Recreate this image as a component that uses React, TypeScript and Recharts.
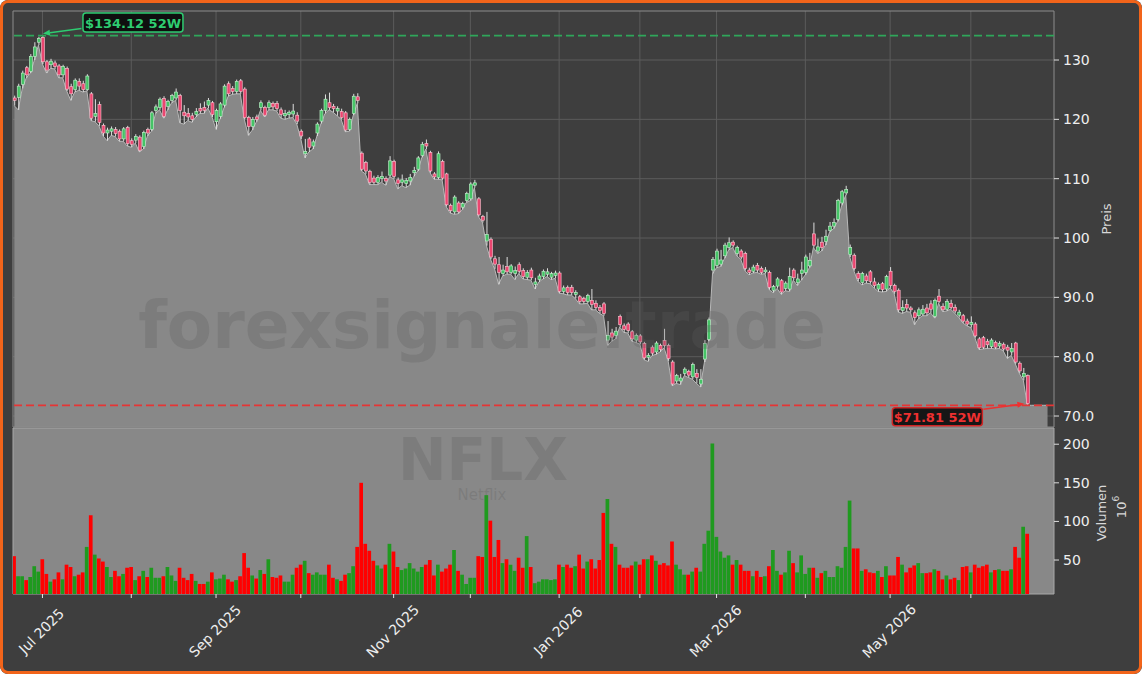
import React from 'react';
import {
  ComposedChart,
  Bar,
  Area,
  XAxis,
  YAxis,
  CartesianGrid,
  ReferenceLine,
  ReferenceDot,
  ReferenceArea,
  Cell,
} from 'recharts';

const W = 1142;
const H = 674;
const FONT = '"DejaVu Sans", sans-serif';

// trading-day index of each month start, Jul 2025 .. Jun 2026
const monthTicks = [7, 29, 50, 71, 94, 113, 135, 155, 174, 196, 217, 237];
const monthLabels = ['Jul 2025', '', 'Sep 2025', '', 'Nov 2025', '', 'Jan 2026', '', 'Mar 2026', '', 'May 2026', ''];

const priceTicks = [70, 80, 90, 100, 110, 120, 130];
const volumeTicks = [50, 100, 150, 200];

const HIGH_52W = 134.12;
const HIGH_IDX = 7;
const LOW_52W = 71.81;
const LOW_IDX = 251;
const TAIL = 5; // fill continues a few slots past the last candle

const open = [
  123.6, 123.7, 125.9, 128.7, 128.1, 130.6, 133.0, 133.8, 129.7, 129.2,
  129.5, 129.0, 127.5, 128.6, 125.5, 125.0, 126.4, 126.0, 125.0, 124.3,
  120.5, 122.5, 119.0, 117.7, 118.0, 118.3, 118.0, 116.7, 118.6, 116.4,
  116.5, 117.0, 115.4, 118.3, 118.3, 121.5, 122.0, 123.5, 122.2, 123.2,
  123.6, 124.0, 121.2, 121.0, 120.6, 120.8, 121.8, 122.0, 122.4, 122.8,
  119.6, 120.5, 122.4, 126.0, 125.2, 124.7, 126.5, 125.1, 120.3, 118.8,
  120.4, 122.0, 122.0, 122.0, 122.7, 122.7, 121.6, 120.6, 120.8, 120.9,
  120.7, 118.0, 114.2, 116.7, 115.5, 117.7, 119.7, 121.5, 122.8, 122.2,
  121.4, 121.3, 121.1, 118.3, 121.0, 123.8, 114.3, 112.7, 111.2, 110.1,
  109.4, 110.0, 110.0, 110.6, 112.9, 109.8, 109.4, 109.2, 109.6, 111.0,
  111.6, 113.9, 115.9, 114.4, 110.8, 110.2, 112.9, 110.8, 105.5, 104.4,
  105.9, 105.2, 106.3, 106.6, 108.9, 106.6, 103.6, 99.5, 99.8, 96.5,
  95.5, 94.0, 95.2, 94.2, 94.0, 95.5, 94.5, 93.4, 94.6, 92.2,
  93.0, 93.5, 93.9, 93.4, 93.7, 94.1, 91.0, 91.7, 91.7, 90.5,
  90.1, 89.8, 89.3, 89.5, 89.0, 88.3, 88.9, 82.8, 84.0, 83.6,
  86.8, 85.2, 85.5, 84.2, 82.8, 83.5, 82.2, 79.9, 81.6, 80.8,
  81.9, 82.7, 81.9, 79.1, 75.9, 75.9, 77.2, 77.5, 76.6, 77.2,
  75.4, 79.6, 82.9, 94.6, 95.4, 95.6, 97.0, 98.4, 99.3, 97.4,
  97.8, 97.4, 94.6, 94.4, 95.4, 94.9, 94.3, 94.2, 91.2, 91.9,
  92.8, 91.5, 91.4, 94.6, 92.5, 94.0, 94.2, 95.3, 100.7, 97.8,
  99.3, 99.4, 101.3, 102.0, 103.1, 105.9, 107.6, 97.2, 97.1, 94.0,
  92.5, 93.6, 94.3, 92.6, 91.4, 92.3, 91.4, 94.4, 92.0, 91.2,
  87.8, 88.8, 88.2, 87.4, 86.9, 87.2, 88.2, 88.9, 86.8, 90.2,
  88.5, 88.0, 89.0, 88.3, 87.0, 86.9, 86.0, 85.4, 85.5, 83.0,
  83.2, 82.6, 81.7, 82.4, 81.8, 82.1, 81.6, 80.8, 82.3, 78.9,
  76.6, 76.8,
];

const high = [
  124.0, 126.0, 128.2, 129.0, 131.0, 133.0, 133.9, 134.12, 130.0, 130.2,
  129.9, 129.3, 129.2, 128.9, 126.0, 126.9, 126.9, 126.5, 127.6, 124.6,
  123.4, 123.0, 119.3, 118.6, 118.8, 118.7, 118.3, 118.7, 118.9, 116.8,
  117.5, 117.3, 118.1, 118.6, 121.4, 122.5, 123.7, 123.9, 123.3, 124.3,
  125.2, 124.3, 122.4, 121.9, 121.1, 121.9, 122.7, 123.0, 123.6, 123.1,
  121.8, 122.9, 125.9, 126.4, 125.6, 126.7, 126.8, 125.4, 120.6, 120.4,
  120.8, 123.2, 122.3, 123.2, 123.0, 123.1, 122.0, 121.6, 121.5, 122.6,
  121.2, 118.3, 116.7, 117.0, 116.6, 119.5, 121.8, 124.2, 124.5, 122.6,
  122.2, 121.8, 121.4, 120.3, 124.3, 124.4, 114.6, 113.0, 111.5, 110.5,
  110.6, 111.2, 110.4, 113.8, 113.2, 110.2, 110.7, 110.1, 110.8, 112.0,
  113.8, 116.2, 116.6, 114.7, 111.1, 114.6, 113.2, 111.0, 105.8, 107.2,
  106.2, 106.1, 107.8, 109.4, 109.8, 106.9, 103.9, 104.4, 100.1, 97.0,
  96.8, 95.5, 96.8, 95.6, 95.2, 95.9, 94.9, 94.6, 95.0, 93.3,
  94.0, 94.7, 94.9, 94.3, 94.5, 94.4, 92.0, 92.0, 92.1, 91.2,
  90.4, 90.1, 90.6, 91.4, 89.5, 88.7, 89.2, 86.0, 84.7, 85.0,
  87.1, 85.6, 85.8, 84.5, 83.9, 83.8, 82.5, 80.6, 81.9, 82.6,
  82.2, 84.7, 82.2, 79.4, 77.1, 77.1, 78.2, 77.8, 79.0, 77.9,
  77.9, 82.8, 86.6, 96.8, 98.2, 98.0, 99.2, 100.1, 99.6, 98.7,
  98.1, 97.7, 95.0, 95.5, 95.8, 95.2, 95.1, 94.5, 92.1, 93.4,
  93.1, 92.7, 95.0, 94.9, 94.0, 96.0, 97.2, 97.5, 102.6, 99.9,
  100.2, 101.4, 102.7, 103.3, 106.6, 108.1, 108.8, 98.9, 97.4, 94.4,
  94.3, 94.0, 94.6, 93.3, 92.5, 92.6, 93.8, 95.1, 92.3, 91.5,
  89.5, 89.7, 88.5, 87.8, 88.3, 88.7, 88.9, 89.5, 89.8, 91.4,
  89.0, 89.7, 89.6, 88.8, 87.9, 87.2, 86.4, 86.8, 85.8, 83.3,
  83.5, 83.0, 83.1, 82.7, 82.6, 82.4, 82.0, 82.3, 82.5, 79.2,
  78.1, 77.0,
];

const low = [
  122.3, 121.6, 125.2, 127.0, 127.8, 130.0, 132.5, 129.3, 127.8, 128.6,
  128.5, 127.0, 127.0, 124.8, 123.2, 124.6, 124.9, 124.6, 124.8, 119.8,
  119.6, 118.9, 117.2, 116.4, 117.3, 117.1, 116.3, 116.3, 115.5, 115.3,
  116.0, 114.5, 115.0, 117.2, 118.0, 121.0, 121.6, 120.2, 121.6, 122.8,
  123.2, 119.4, 119.2, 119.8, 119.5, 120.4, 121.0, 121.0, 121.9, 120.4,
  118.3, 120.1, 122.0, 123.9, 124.2, 124.3, 124.3, 120.0, 117.3, 118.2,
  119.6, 121.5, 120.4, 121.6, 121.6, 121.4, 120.2, 120.0, 120.2, 120.3,
  119.2, 116.7, 113.5, 114.5, 115.0, 117.2, 119.3, 121.0, 121.6, 121.2,
  120.6, 120.0, 117.9, 118.0, 120.7, 122.7, 111.3, 110.8, 109.0, 109.0,
  109.0, 109.4, 108.9, 110.3, 110.0, 108.3, 108.8, 108.5, 108.9, 110.4,
  111.3, 113.6, 115.0, 111.0, 109.9, 109.9, 109.8, 105.3, 104.2, 104.0,
  104.1, 104.8, 106.0, 106.3, 108.5, 103.6, 102.6, 98.7, 96.4, 94.8,
  92.2, 93.6, 93.9, 93.9, 93.0, 94.0, 93.1, 93.0, 92.9, 91.4,
  92.6, 93.1, 93.5, 93.0, 93.2, 90.7, 90.6, 90.4, 90.4, 89.8,
  88.9, 88.9, 89.0, 87.9, 87.9, 87.3, 86.9, 81.9, 82.6, 83.0,
  85.0, 84.1, 84.0, 82.6, 82.4, 82.1, 79.5, 79.2, 80.2, 80.4,
  80.8, 81.5, 79.3, 75.1, 75.5, 75.3, 76.8, 76.5, 76.2, 75.5,
  74.9, 79.1, 82.6, 94.0, 95.0, 95.2, 96.6, 98.0, 98.4, 97.0,
  96.4, 94.5, 93.8, 94.1, 94.2, 93.9, 94.0, 91.3, 90.8, 91.5,
  90.5, 91.1, 91.0, 92.9, 92.0, 92.9, 93.8, 95.0, 98.4, 97.4,
  97.8, 98.8, 101.0, 101.6, 102.8, 105.5, 107.2, 96.8, 94.5, 92.7,
  92.1, 92.4, 92.3, 91.6, 91.0, 90.9, 91.0, 91.6, 90.6, 87.5,
  87.3, 87.6, 87.5, 85.4, 86.4, 86.9, 86.9, 87.4, 86.5, 89.0,
  87.6, 87.7, 88.0, 87.3, 86.6, 85.7, 85.2, 84.9, 83.2, 81.2,
  81.3, 81.4, 81.4, 81.3, 81.4, 81.0, 79.7, 80.2, 78.8, 77.2,
  76.0, 71.81,
];

const close = [
  123.2, 125.6, 127.8, 127.5, 130.6, 132.2, 133.6, 129.7, 128.3, 129.8,
  128.9, 127.5, 128.9, 125.1, 124.3, 126.6, 125.6, 125.0, 127.3, 120.2,
  121.0, 119.5, 117.7, 118.2, 118.4, 117.6, 116.7, 118.4, 115.9, 115.8,
  117.1, 114.8, 117.8, 117.7, 121.1, 122.1, 123.4, 120.5, 123.0, 124.0,
  124.6, 121.5, 120.6, 120.4, 120.0, 121.3, 121.4, 121.5, 123.2, 120.8,
  121.5, 122.6, 125.6, 124.3, 124.7, 126.4, 124.7, 120.3, 118.8, 120.0,
  120.0, 122.8, 120.7, 122.8, 122.1, 121.8, 120.8, 121.0, 121.2, 121.4,
  119.7, 117.2, 114.6, 115.3, 116.2, 119.2, 121.5, 123.4, 122.0, 121.8,
  121.8, 120.3, 118.2, 120.0, 123.9, 123.2, 111.6, 111.3, 109.4, 109.4,
  110.2, 110.4, 109.6, 113.0, 110.4, 109.2, 109.8, 109.7, 110.2, 111.4,
  113.5, 115.8, 115.5, 111.3, 110.3, 114.2, 110.1, 105.6, 104.6, 106.9,
  104.4, 105.8, 107.5, 109.1, 109.3, 103.9, 103.0, 100.6, 96.8, 95.6,
  94.2, 94.6, 94.3, 95.3, 94.5, 94.4, 93.5, 94.2, 93.3, 92.6,
  93.6, 94.4, 94.3, 94.0, 94.1, 91.0, 91.6, 90.8, 90.8, 90.8,
  89.3, 89.3, 90.3, 88.8, 88.3, 87.8, 87.3, 83.6, 83.3, 84.3,
  85.4, 84.6, 84.4, 83.0, 83.6, 82.5, 79.8, 80.2, 80.6, 82.3,
  81.2, 81.9, 79.7, 75.4, 76.8, 76.4, 77.9, 76.9, 78.7, 76.5,
  76.2, 82.2, 86.2, 96.4, 97.8, 96.3, 98.8, 99.2, 98.8, 98.4,
  96.8, 94.9, 94.2, 95.1, 94.6, 94.2, 94.6, 91.7, 91.8, 93.1,
  90.9, 92.4, 93.5, 93.3, 93.1, 94.6, 96.8, 96.2, 98.8, 98.5,
  98.4, 100.3, 102.0, 102.6, 106.3, 107.8, 108.2, 98.4, 94.9, 93.2,
  94.0, 92.8, 92.7, 92.0, 92.2, 91.3, 93.5, 92.0, 91.0, 87.9,
  88.3, 88.2, 87.9, 86.6, 87.9, 88.0, 87.4, 88.0, 89.5, 89.3,
  87.9, 89.3, 88.3, 87.7, 87.5, 86.0, 85.5, 85.8, 83.5, 81.5,
  81.6, 82.0, 82.8, 81.6, 82.2, 81.3, 81.1, 81.4, 79.1, 77.6,
  77.2, 72.1,
];

// volume in millions
const volume = [
  55, 29, 29, 24, 28, 42, 35, 51, 32, 22,
  25, 34, 25, 44, 41, 29, 31, 34, 67, 108,
  57, 52, 48, 41, 28, 36, 29, 32, 40, 41,
  24, 29, 36, 28, 40, 27, 27, 29, 41, 30,
  23, 40, 27, 24, 32, 23, 19, 19, 22, 34,
  25, 26, 31, 25, 22, 24, 29, 59, 40, 30,
  26, 37, 32, 51, 28, 27, 30, 22, 22, 31,
  40, 44, 49, 33, 31, 34, 31, 31, 44, 27,
  25, 23, 31, 33, 42, 67, 150, 71, 62, 49,
  43, 39, 44, 71, 61, 41, 37, 39, 46, 39,
  35, 41, 44, 50, 30, 44, 35, 39, 44, 63,
  36, 31, 19, 27, 27, 55, 54, 134, 101, 54,
  76, 46, 51, 44, 36, 53, 40, 81, 41, 20,
  22, 25, 25, 24, 25, 44, 41, 44, 40, 42,
  57, 39, 48, 51, 39, 50, 111, 129, 71, 67,
  44, 40, 40, 43, 48, 44, 51, 51, 56, 49,
  44, 46, 43, 74, 44, 38, 31, 31, 35, 40,
  35, 71, 88, 201, 80, 61, 53, 56, 44, 50,
  44, 36, 36, 29, 36, 28, 29, 42, 63, 36,
  31, 34, 62, 46, 34, 56, 32, 40, 40, 27,
  33, 36, 28, 28, 42, 40, 67, 127, 65, 65,
  36, 38, 34, 33, 36, 28, 42, 30, 30, 54,
  44, 34, 40, 43, 46, 33, 33, 34, 38, 36,
  25, 30, 25, 27, 24, 41, 42, 34, 44, 40,
  42, 44, 34, 37, 38, 36, 36, 38, 67, 53,
  93, 84,
];

const rows: any[] = open.map((o, i) => ({
  i,
  open: o,
  high: high[i],
  low: low[i],
  close: close[i],
  volume: volume[i],
  range: [low[i], high[i]],
  area: low[i],
}));
for (let k = 1; k <= TAIL; k++) rows.push({ i: open.length - 1 + k, area: LOW_52W });

const X_DOMAIN: [number, number] = [-0.3, 257.6];
const PRICE_DOMAIN: [number, number] = [68.15, 138.26];
const VOL_DOMAIN: [number, number] = [6, 221];

const UP = '#45c466';
const UP_EDGE = '#c6f2d0';
const DOWN = '#eb4670';
const DOWN_EDGE = '#ffc3d1';
const WICK = '#dedede';
const GREEN = '#2ecc71';
const RED = '#ee3030';

const fmtPrice = (v: number) => (v < 100 ? v.toFixed(1) : String(v));

const Candle = (props: any) => {
  const { x, y, width, height, payload } = props;
  if (!payload || payload.open == null || x == null) return null;
  const top = Math.min(y, y + height);
  const span = Math.abs(height);
  const ppu = span / (payload.high - payload.low);
  const up = payload.close >= payload.open;
  const bTop = top + (payload.high - Math.max(payload.open, payload.close)) * ppu;
  const bBot = top + (payload.high - Math.min(payload.open, payload.close)) * ppu;
  const cx = x + width / 2;
  return (
    <g>
      <line x1={cx} x2={cx} y1={top} y2={top + span} stroke={WICK} strokeWidth={1} />
      <rect
        x={x}
        y={bTop}
        width={width}
        height={Math.max(bBot - bTop, 1)}
        fill={up ? UP : DOWN}
        stroke={up ? UP_EDGE : DOWN_EDGE}
        strokeWidth={0.6}
      />
    </g>
  );
};

const Arrow = ({ x1, y1, x2, y2, color }: any) => {
  const a = Math.atan2(y2 - y1, x2 - x1);
  const len = 7;
  const half = 3;
  const bx = x2 - len * Math.cos(a);
  const by = y2 - len * Math.sin(a);
  const px = -Math.sin(a) * half;
  const py = Math.cos(a) * half;
  return (
    <g>
      <line x1={x1} y1={y1} x2={bx} y2={by} stroke={color} strokeWidth={1.5} />
      <polygon points={`${x2},${y2} ${bx + px},${by + py} ${bx - px},${by - py}`} fill={color} />
    </g>
  );
};

const HighTag = (props: any) => {
  const { cx, cy } = props;
  if (cx == null) return null;
  const bx = cx + 40.5;
  const by = cy - 22.5;
  return (
    <g>
      <Arrow x1={cx + 39} y1={cy - 7} x2={cx + 0.5} y2={cy - 2} color={GREEN} />
      <rect x={bx} y={by} width={100} height={19} rx={3} fill="#0f0f0f" stroke={GREEN} strokeWidth={1.5} />
      <text x={bx + 50} y={by + 10} textAnchor="middle" dominantBaseline="central" fill={GREEN}
        fontSize={13} fontWeight="bold" fontFamily={FONT}>
        {`$${HIGH_52W.toFixed(2)} 52W`}
      </text>
    </g>
  );
};

const LowTag = (props: any) => {
  const { cx, cy } = props;
  if (cx == null) return null;
  const bx = cx - 135;
  const by = cy + 2.4;
  return (
    <g>
      <Arrow x1={cx - 44} y1={cy + 4} x2={cx - 3} y2={cy - 1.5} color={RED} />
      <rect x={bx} y={by} width={90} height={18} rx={3} fill="#161616" stroke="#d02424" strokeWidth={1.5} />
      <text x={bx + 45} y={by + 9.5} textAnchor="middle" dominantBaseline="central" fill={RED}
        fontSize={13} fontWeight="bold" fontFamily={FONT}>
        {`$${LOW_52W.toFixed(2)} 52W`}
      </text>
    </g>
  );
};

const MonthTick = (props: any) => {
  const { x, y, payload } = props;
  const label = monthLabels[monthTicks.indexOf(payload.value)];
  if (!label) return null;
  const cx = x - 1;
  const cy = y + 31;
  return (
    <text x={cx} y={cy} transform={`rotate(-45 ${cx} ${cy})`} textAnchor="middle"
      dominantBaseline="central" fill="#eeeeee" fontSize={14} fontFamily={FONT}>
      {label}
    </text>
  );
};

const tickStyle = { fill: '#eeeeee', fontSize: 14, fontFamily: FONT };

export default function App() {
  return (
    <div style={{ position: 'absolute', left: 0, top: 0, width: W, height: H, background: '#3e3e3e',
      borderRadius: 8, overflow: 'hidden', fontFamily: FONT }}>
      <div style={{ position: 'absolute', left: 0, top: 0 }}>
        <ComposedChart width={W} height={430} data={rows} margin={{ top: 11, right: 28, bottom: 3, left: 13 }}>
          <CartesianGrid stroke="#5c5c5c" strokeWidth={1} horizontalValues={priceTicks} verticalValues={monthTicks} />
          <XAxis type="number" dataKey="i" domain={X_DOMAIN} allowDataOverflow hide ticks={monthTicks} />
          <YAxis orientation="right" domain={PRICE_DOMAIN} allowDataOverflow ticks={priceTicks} interval={0}
            width={60} tickSize={5} tickMargin={4} axisLine={false} tickLine={{ stroke: '#dddddd' }}
            tick={tickStyle} tickFormatter={fmtPrice} />
          <Area type="linear" dataKey="area" stroke="#b8b8b8" strokeWidth={1} fill="#888888" fillOpacity={1}
            dot={false} activeDot={false} isAnimationActive={false} />
          <ReferenceLine y={HIGH_52W} stroke="#2fa65a" strokeDasharray="8 4" strokeWidth={1.8} />
          <ReferenceLine y={LOW_52W} stroke="#e53535" strokeDasharray="8 4" strokeWidth={1.7} />
          <Bar dataKey="range" barSize={3} shape={<Candle />} isAnimationActive={false} />
          <ReferenceArea x1={X_DOMAIN[0]} x2={X_DOMAIN[1]} y1={PRICE_DOMAIN[0]} y2={PRICE_DOMAIN[1]}
            fill="none" stroke="#8c8c8c" strokeWidth={1} />
          <ReferenceDot x={HIGH_IDX} y={HIGH_52W} shape={HighTag} />
          <ReferenceDot x={LOW_IDX} y={LOW_52W} shape={LowTag} />
        </ComposedChart>
      </div>
      <div style={{ position: 'absolute', left: 0, top: 0 }}>
        <ComposedChart width={W} height={H} data={rows} margin={{ top: 428, right: 28, bottom: 0, left: 13 }}>
          <CartesianGrid fill="#888888" stroke="none" horizontal={false} vertical={false} />
          <XAxis type="number" dataKey="i" domain={X_DOMAIN} allowDataOverflow ticks={monthTicks} interval={0}
            height={80} tickSize={4} axisLine={false} tickLine={{ stroke: '#e6e6e6' }} tick={<MonthTick />} />
          <YAxis orientation="right" domain={VOL_DOMAIN} allowDataOverflow ticks={volumeTicks} interval={0}
            width={60} tickSize={5} tickMargin={4} axisLine={false} tickLine={{ stroke: '#dddddd' }}
            tick={tickStyle} />
          <Bar dataKey="volume" barSize={3.7} isAnimationActive={false}>
            {rows.map((r, k) => (
              <Cell key={k} fill={r.close >= r.open ? '#1f9a1f' : '#ff0000'} />
            ))}
          </Bar>
          <ReferenceArea x1={X_DOMAIN[0]} x2={X_DOMAIN[1]} y1={VOL_DOMAIN[0]} y2={VOL_DOMAIN[1]}
            fill="none" stroke="#a8a8a8" strokeWidth={1} />
        </ComposedChart>
      </div>
      <svg width={W} height={H} style={{ position: 'absolute', left: 0, top: 0, pointerEvents: 'none' }}>
        <g fill="#5d5d5d" fillOpacity={0.28} fontFamily={FONT} fontWeight="bold" textAnchor="middle">
          <text x={482} y={348} fontSize={66}>forexsignale.trade</text>
          <text x={483} y={480} fontSize={58}>NFLX</text>
          <text x={482} y={500} fontSize={15} fontWeight="normal">Netflix</text>
        </g>
        <g fill="#d8d8d8" fontSize={13} fontFamily={FONT} textAnchor="middle" dominantBaseline="central">
          <text x={1106} y={219} transform="rotate(-90 1106 219)">Preis</text>
          <text x={1101} y={513} transform="rotate(-90 1101 513)">Volumen</text>
          <text x={1121} y={507} transform="rotate(-90 1121 507)">
            10<tspan fontSize={9} dy={-5}>6</tspan>
          </text>
        </g>
      </svg>
      <div style={{ position: 'absolute', left: 0, top: 0, width: W, height: H, boxSizing: 'border-box',
        border: '3px solid #f2641a', borderRadius: 8, pointerEvents: 'none' }} />
    </div>
  );
}
